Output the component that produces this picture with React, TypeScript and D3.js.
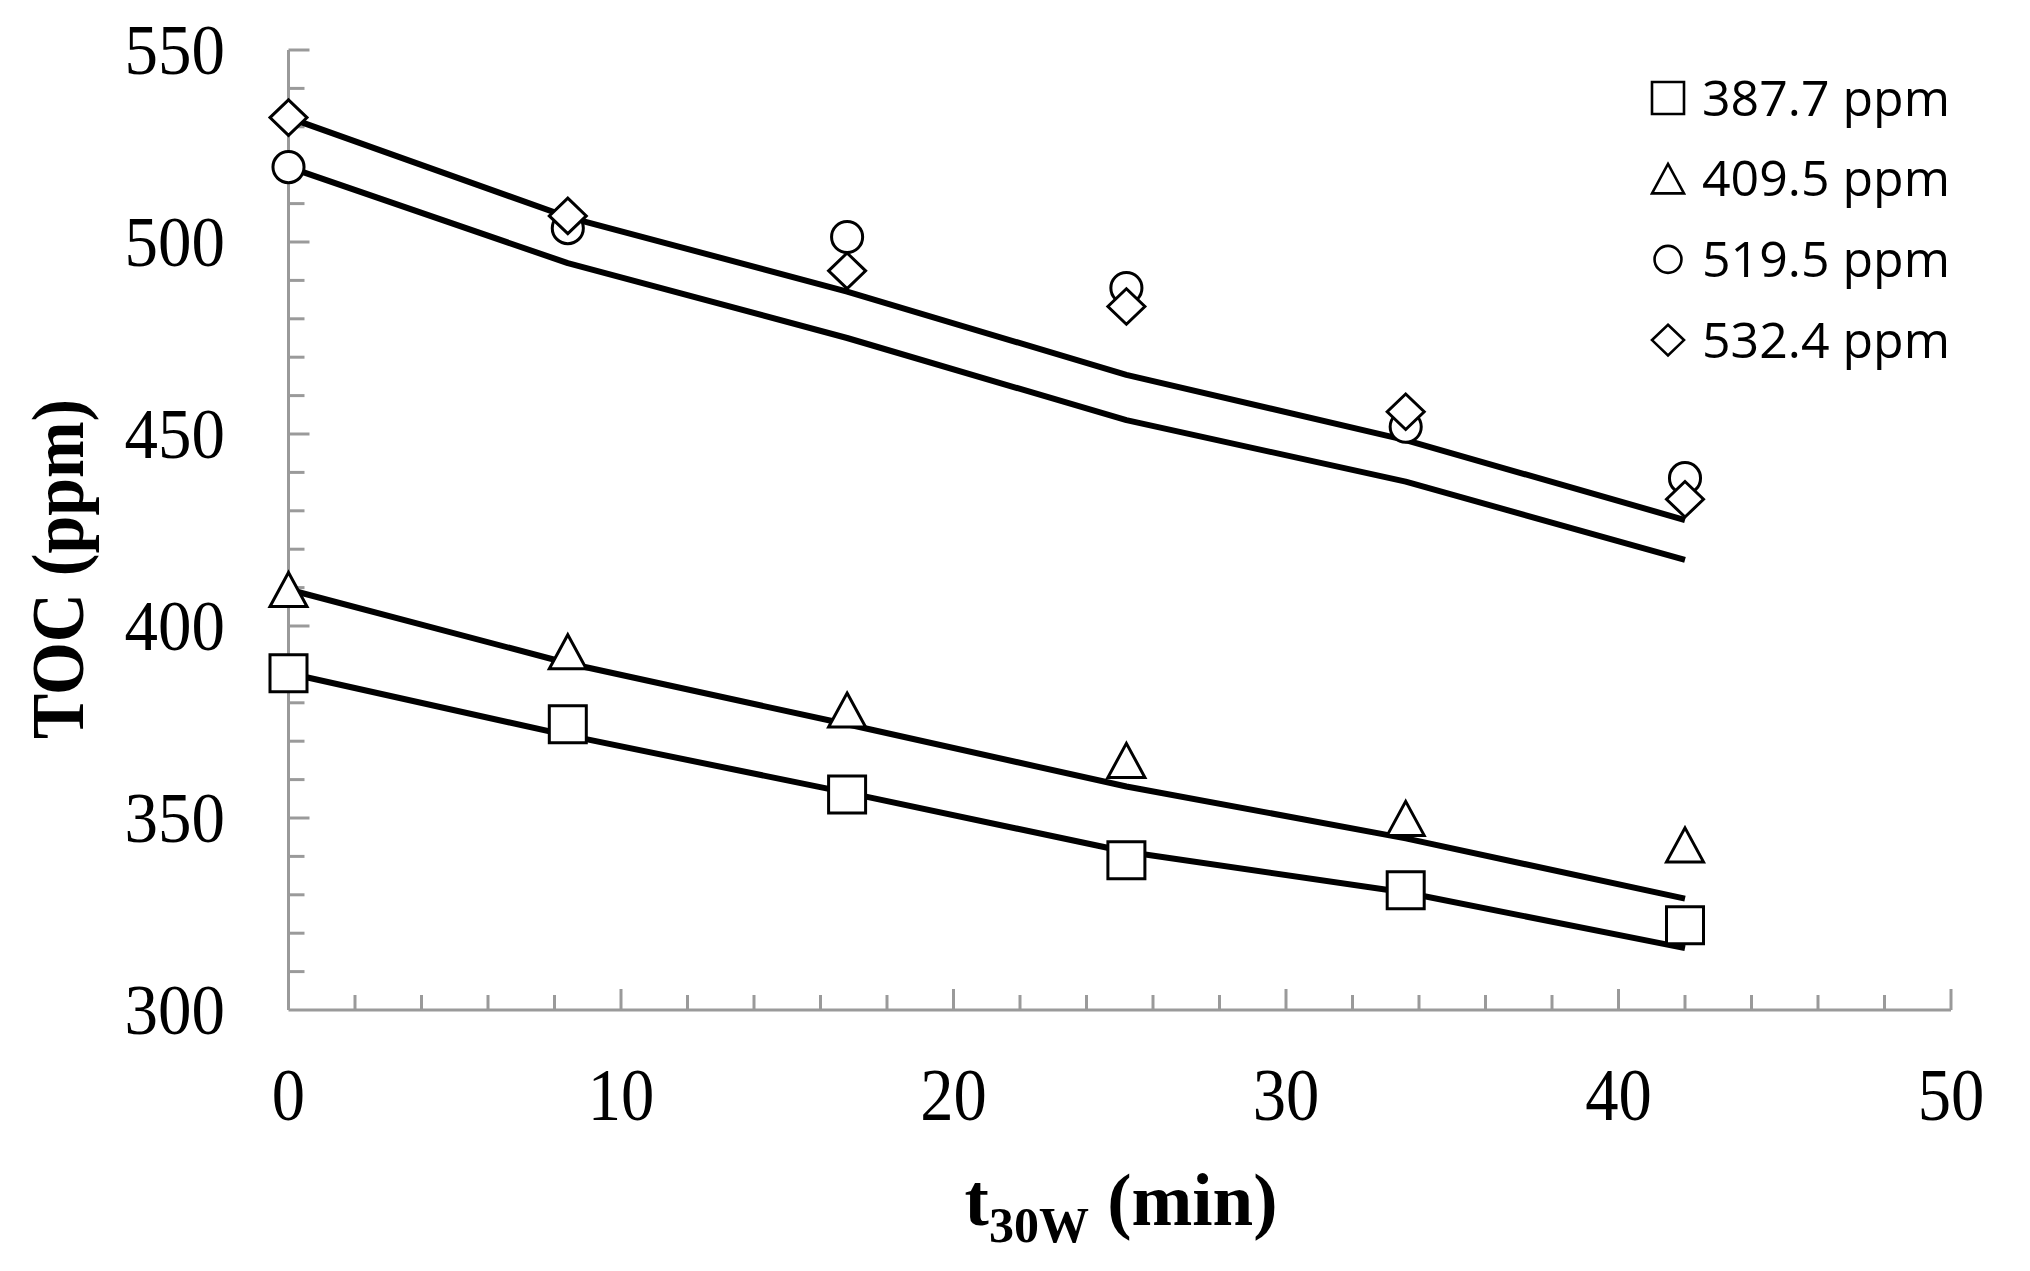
import React from "react";
import * as d3 from "d3";

const times = [0, 8.4, 16.8, 25.2, 33.6, 42];
const obs387 = [387.7, 374.4, 356.1, 339.0, 331.2, 322.1];
const obs409 = [409.5, 393.3, 378.1, 365.0, 349.9, 343.0];
const obs519 = [519.5, 503.6, 501.3, 488.0, 451.9, 438.5];
const obs532 = [532.4, 506.8, 492.5, 483.2, 455.8, 433.0];
const fit387 = [387.7, 371.5, 356.6, 341.2, 330.6, 316.1];
const fit409 = [409.5, 390.3, 374.4, 358.2, 344.7, 329.0];
const fit519 = [519.5, 494.5, 475.0, 453.6, 437.6, 417.2];
const fit532 = [532.4, 506.5, 487.1, 465.4, 448.4, 427.6];
const legendLabels = ["387.7 ppm", "409.5 ppm", "519.5 ppm", "532.4 ppm"];
const markerKinds = ["square", "triangle", "circle", "diamond"];
const xTicks = [0, 10, 20, 30, 40, 50];
const yTicks = [300, 350, 400, 450, 500, 550];

const W = 2030;
const H = 1271;
const x = d3.scaleLinear().domain([0, 50]).range([288.5, 1951]);
const y = d3.scaleLinear().domain([300, 550]).range([1010, 50]);

function markerPath(kind: string, cx: number, cy: number, s: number): string {
  const p = d3.path();
  if (kind === "square") {
    p.rect(cx - s / 2, cy - s / 2, s, s);
  } else if (kind === "triangle") {
    const h = s * 0.92;
    p.moveTo(cx, cy - h / 2);
    p.lineTo(cx + s / 2, cy + h / 2);
    p.lineTo(cx - s / 2, cy + h / 2);
    p.closePath();
  } else if (kind === "circle") {
    const r = s * 0.42;
    p.moveTo(cx + r, cy);
    p.arc(cx, cy, r, 0, Math.PI * 2);
    p.closePath();
  } else {
    const hw = s / 2;
    const hh = s * 0.48;
    p.moveTo(cx, cy - hh);
    p.lineTo(cx + hw, cy);
    p.lineTo(cx, cy + hh);
    p.lineTo(cx - hw, cy);
    p.closePath();
  }
  return p.toString();
}

export default function App() {
  const obsSeries = [obs387, obs409, obs519, obs532];
  const fitSeries = [fit387, fit409, fit519, fit532];
  const line = d3
    .line<number>()
    .x((_, i) => x(times[i]))
    .y((v) => y(v));

  const axisColor = "#9a9a9a";
  const yMinor = d3.range(300, 551, 10);
  const xMinor = d3.range(0, 51, 2);

  return (
    <svg
      width={W}
      height={H}
      viewBox={`0 0 ${W} ${H}`}
      style={{ position: "absolute", left: 0, top: 0, background: "#fff" }}
    >
      <rect x={0} y={0} width={W} height={H} fill="#fff" />
      {/* axes */}
      <line x1={x(0)} x2={x(0)} y1={y(550)} y2={y(300)} stroke={axisColor} strokeWidth={3} />
      <line x1={x(0)} x2={x(50)} y1={y(300)} y2={y(300)} stroke={axisColor} strokeWidth={3} />
      {yMinor
        .filter((v) => v > 300)
        .map((v) => (
          <line
            key={"yt" + v}
            x1={x(0)}
            x2={x(0) + (v % 50 === 0 ? 21 : 16)}
            y1={y(v)}
            y2={y(v)}
            stroke={axisColor}
            strokeWidth={3}
          />
        ))}
      {xMinor
        .filter((v) => v > 0)
        .map((v) => (
          <line
            key={"xt" + v}
            x1={x(v)}
            x2={x(v)}
            y1={y(300)}
            y2={y(300) - (v % 10 === 0 ? 21 : 15)}
            stroke={axisColor}
            strokeWidth={3}
          />
        ))}
      {/* tick labels */}
      {yTicks.map((v) => (
        <text
          key={"yl" + v}
          transform={`translate(225, ${y(v) + 24}) scale(0.93, 1)`}
          textAnchor="end"
          fontFamily="'Liberation Serif', 'Times New Roman', serif"
          fontSize={72}
          fill="#000"
        >
          {v}
        </text>
      ))}
      {xTicks.map((v) => (
        <text
          key={"xl" + v}
          transform={`translate(${x(v)}, 1120) scale(0.9, 1)`}
          textAnchor="middle"
          fontFamily="'Liberation Serif', 'Times New Roman', serif"
          fontSize={74}
          fill="#000"
        >
          {v}
        </text>
      ))}
      {/* axis titles */}
      <text
        x={1121}
        y={1225}
        textAnchor="middle"
        fontFamily="'Liberation Serif', 'Times New Roman', serif"
        fontWeight="bold"
        fontSize={73}
        fill="#000"
      >
        <tspan>t</tspan>
        <tspan fontSize={50} dy={17}>
          30W
        </tspan>
        <tspan dy={-17}> (min)</tspan>
      </text>
      <text
        transform={`translate(83, 569) rotate(-90) scale(0.93, 1)`}
        textAnchor="middle"
        fontFamily="'Liberation Serif', 'Times New Roman', serif"
        fontWeight="bold"
        fontSize={73}
        fill="#000"
      >
        TOC (ppm)
      </text>
      {/* fitted lines */}
      {fitSeries.map((s, i) => (
        <path
          key={"fit" + i}
          d={line(s) || ""}
          fill="none"
          stroke="#000"
          strokeWidth={6}
          strokeLinejoin="round"
          strokeLinecap="butt"
        />
      ))}
      {/* observed markers */}
      {obsSeries.map((s, i) =>
        s.map((v, j) => (
          <path
            key={"m" + i + "-" + j}
            d={markerPath(markerKinds[i], x(times[j]), y(v), 37)}
            fill="#fff"
            stroke="#000"
            strokeWidth={3}
          />
        ))
      )}
      {/* legend */}
      {legendLabels.map((lab, i) => {
        const cy = 98 + i * 80.7;
        return (
          <g key={"lg" + i}>
            <path d={markerPath(markerKinds[i], 1668, cy, 32)} fill="#fff" stroke="#000" strokeWidth={2.6} />
            <text
              x={1702}
              y={cy + 17.5}
              fontFamily="'Open Sans', 'Noto Sans', sans-serif"
              fontSize={50}
              fill="#000"
            >
              {lab}
            </text>
          </g>
        );
      })}
    </svg>
  );
}
